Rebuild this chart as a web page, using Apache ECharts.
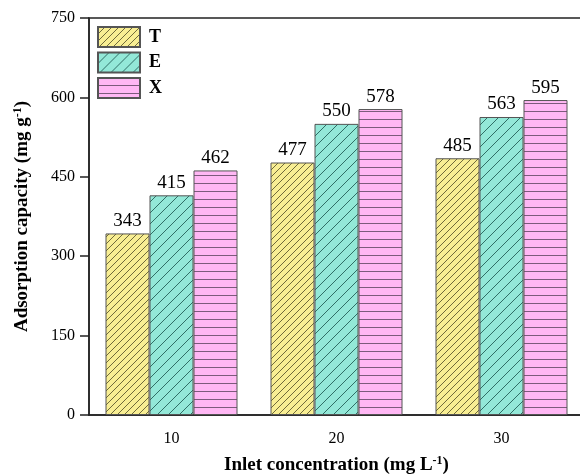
<!DOCTYPE html>
<html>
<head>
<meta charset="utf-8">
<script src="https://cdn.jsdelivr.net/npm/echarts@6/dist/echarts.min.js"></script>
<style>
  html, body { margin: 0; padding: 0; background: #fff; }
  #chart { width: 580px; height: 475px; }
</style>
</head>
<body>
<div id="chart"></div>
<script>
// Inlet concentrations (mg L-1) and adsorption capacities (mg g-1)
const categories = ['10', '20', '30'];
const seriesNames = ['T', 'E', 'X'];
const valuesT = [343, 477, 485];
const valuesE = [415, 550, 563];
const valuesX = [462, 578, 595];
const yTicks = [0, 150, 300, 450, 600, 750];

// Hatch fills drawn on small tiles and repeated over each bar
function hatch(bg, line, size, kind) {
  const c = document.createElement('canvas');
  c.width = size; c.height = size;
  const g = c.getContext('2d');
  g.fillStyle = bg;
  g.fillRect(0, 0, size, size);
  g.strokeStyle = line;
  g.lineWidth = 1;
  g.beginPath();
  if (kind === 'diag') {
    for (let k = -1; k <= 1; k++) {
      g.moveTo(k * size, size);
      g.lineTo(k * size + size, 0);
    }
  } else {
    g.moveTo(0, size - 0.5);
    g.lineTo(size, size - 0.5);
  }
  g.stroke();
  return { image: c, repeat: 'repeat' };
}

const fills = [
  hatch('#f8ee93', '#6f6a3a', 7, 'diag'),
  hatch('#93e8d8', '#2f6f66', 11, 'diag'),
  hatch('#ffb7f4', '#7c5a7c', 8, 'horiz')
];

const serif = '"Liberation Serif", "Times New Roman", serif';
const seriesData = [valuesT, valuesE, valuesX];
const supStyle = { fontSize: 12, fontWeight: 'bold', verticalAlign: 'top', padding: [0, 0, 9, 0], fontFamily: serif, color: '#000' };

const chart = echarts.init(document.getElementById('chart'), null, { renderer: 'canvas' });
chart.setOption({
  animation: false,
  textStyle: { fontFamily: serif },
  grid: {
    left: 89, right: -4, top: 18, bottom: 60,
    containLabel: false,
    outerBoundsMode: 'none',
    show: true, borderColor: '#222', borderWidth: 1.5, backgroundColor: 'transparent'
  },
  legend: {
    orient: 'vertical',
    left: 97, top: 26,
    padding: 0,
    icon: 'rect',
    itemWidth: 42, itemHeight: 20, itemGap: 3.5,
    data: seriesNames,
    textStyle: { fontFamily: serif, fontSize: 18, fontWeight: 'bold', color: '#000', padding: [0, 0, 0, 4] }
  },
  xAxis: {
    type: 'category',
    data: categories,
    name: 'Inlet concentration (mg L{sup|-1})',
    nameLocation: 'middle',
    nameGap: 40,
    nameTextStyle: { fontFamily: serif, fontSize: 19, fontWeight: 'bold', color: '#000', rich: { sup: supStyle } },
    axisLine: { lineStyle: { color: '#222', width: 1.5 } },
    axisTick: { alignWithLabel: true, length: 6, lineStyle: { color: '#222', width: 1.5 } },
    axisLabel: { fontFamily: serif, fontSize: 16, color: '#000', margin: 16 }
  },
  yAxis: {
    type: 'value',
    min: yTicks[0], max: yTicks[yTicks.length - 1], interval: 150,
    name: 'Adsorption capacity (mg g{sup|-1})',
    nameLocation: 'middle',
    nameRotate: 90,
    nameGap: 56,
    nameTextStyle: { fontFamily: serif, fontSize: 19, fontWeight: 'bold', color: '#000', rich: { sup: supStyle } },
    splitLine: { show: false },
    axisLine: { show: true, lineStyle: { color: '#222', width: 1.5 } },
    axisTick: { show: true, length: 9, lineStyle: { color: '#222', width: 1.5 } },
    axisLabel: { fontFamily: serif, fontSize: 16, color: '#000', margin: 14 }
  },
  series: seriesNames.map((name, i) => ({
    name: name,
    type: 'bar',
    data: seriesData[i],
    barGap: '0%',
    barCategoryGap: '20%',
    itemStyle: { color: fills[i], borderColor: '#555', borderWidth: 1 },
    label: {
      show: true, position: 'top', distance: 3,
      fontFamily: serif, fontSize: 19, color: '#000'
    }
  }))
});
</script>
</body>
</html>
